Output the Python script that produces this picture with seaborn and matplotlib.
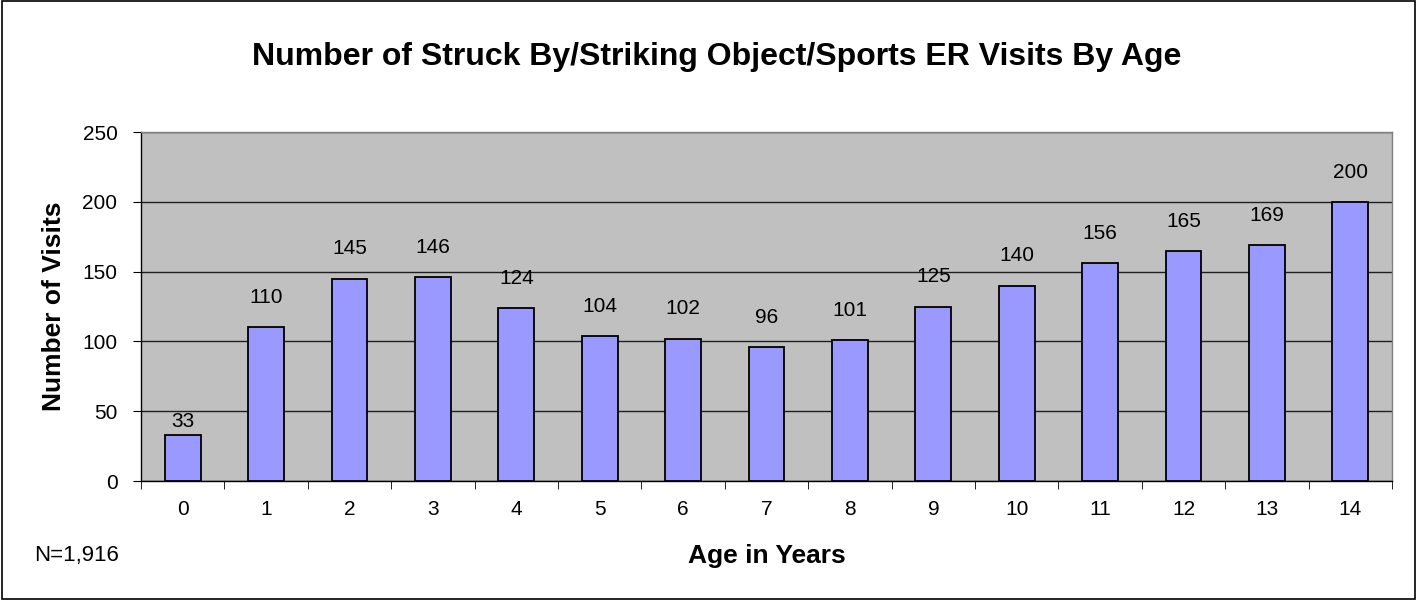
import matplotlib
matplotlib.use("Agg")
import matplotlib.pyplot as plt
import seaborn as sns
import numpy as np
import pandas as pd

ages = [str(a) for a in range(15)]
visits = [33, 110, 145, 146, 124, 104, 102, 96, 101, 125, 140, 156, 165, 169, 200]
yticks = [0, 50, 100, 150, 200, 250]

sns.set_style("white")
plt.rcParams['font.family'] = ['Liberation Sans', 'DejaVu Sans']
plt.rcParams['text.color'] = 'black'
plt.rcParams['axes.labelcolor'] = 'black'
plt.rcParams['xtick.color'] = 'black'
plt.rcParams['ytick.color'] = 'black'

df = pd.DataFrame({'age': ages, 'visits': visits})

fig = plt.figure(figsize=(14.17, 6), dpi=100)
ax = fig.add_axes([0.0995, 0.1983, 0.8829, 0.5817])
ax.set_facecolor('#C0C0C0')

sns.barplot(data=df, x='age', y='visits', ax=ax, color='#9999FF',
            edgecolor='black', linewidth=1.3, width=0.43, saturation=1, zorder=3)

ax.set_ylim(0, 250)
ax.set_xlim(-0.5, len(ages) - 0.5)
ax.set_yticks(yticks)
ax.set_xticks(np.arange(-0.5, len(ages), 1), minor=True)
ax.yaxis.grid(True, color='#202020', linewidth=1, zorder=0)
ax.set_axisbelow(True)
for s in ax.spines.values():
    s.set_color('#808080')
    s.set_linewidth(1)
ax.spines['left'].set_color('black')
ax.spines['bottom'].set_color('black')
ax.tick_params(axis='y', labelsize=15, length=6, pad=11, left=True, color='black')
ax.tick_params(axis='x', which='major', labelsize=15, length=0, pad=14)
ax.tick_params(axis='x', which='minor', length=6, bottom=True, color='black')

# value labels sit ~20px above the bar; the short first bar gets a tighter one like the original
for i, v in enumerate(visits):
    off = 3 if v < 50 else 14.5
    ax.annotate(str(v), (i, v), xytext=(0, off), textcoords='offset points',
                ha='center', va='bottom', fontsize=15, zorder=4)

ax.set_xlabel('Age in Years', fontsize=19, fontweight='bold', labelpad=18)
ax.set_ylabel('Number of Visits', fontsize=19, fontweight='bold', labelpad=12)

fig.text(0.506, 0.905, 'Number of Struck By/Striking Object/Sports ER Visits By Age',
         ha='center', va='center', fontsize=23, fontweight='bold')
fig.text(0.024, 0.075, 'N=1,916', ha='left', va='center', fontsize=16)

fig.patches.append(plt.Rectangle((0.0015, 0.002), 0.997, 0.996, transform=fig.transFigure,
                                 fill=False, edgecolor='black', linewidth=1.2))

fig.savefig('out.png', dpi=100)
